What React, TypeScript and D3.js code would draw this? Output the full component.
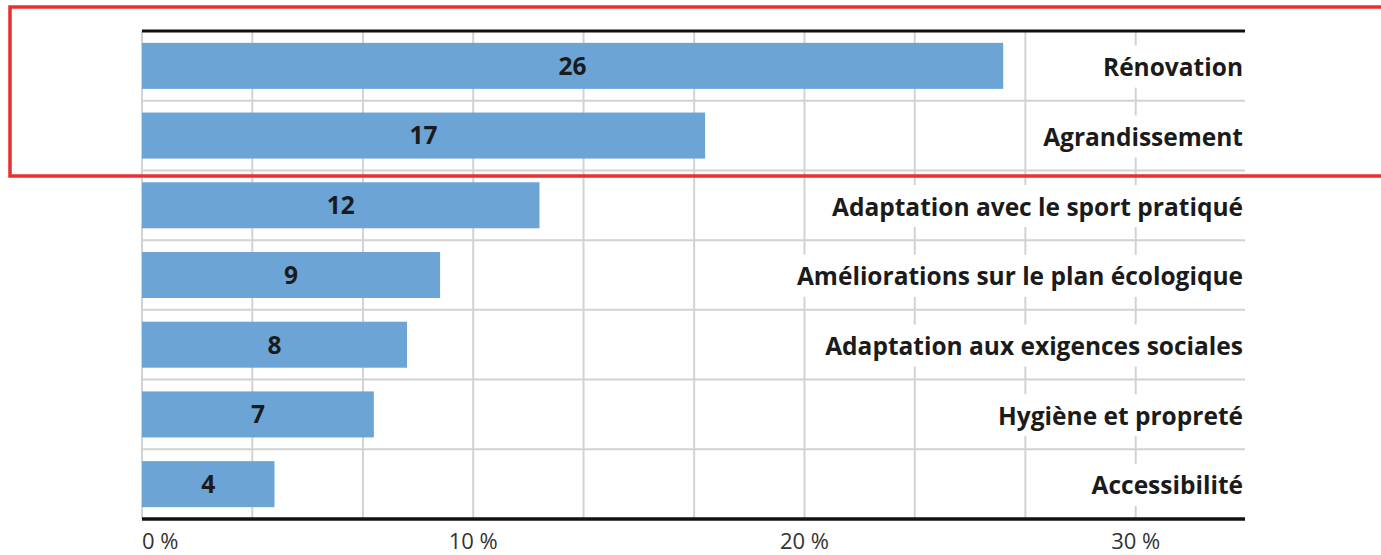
import { useRef, useEffect } from "react";
import { select, scaleLinear, scaleBand } from "d3";

// categories, top to bottom
const categories = [
  "Rénovation",
  "Agrandissement",
  "Adaptation avec le sport pratiqué",
  "Améliorations sur le plan écologique",
  "Adaptation aux exigences sociales",
  "Hygiène et propreté",
  "Accessibilité",
];
const values = [26, 17, 12, 9, 8, 7, 4];
const gridTicks = [0, 3.33, 6.67, 10, 13.33, 16.67, 20, 23.33, 26.67, 30];
const labelTicks = [0, 10, 20, 30];

const W = 1381;
const H = 555;
const left = 142;
const right = 1245;
const top = 31;
const bottom = 519;
const xMax = 33.3;

const font = "'Open Sans', sans-serif";

const App = () => {
  const svgRef = useRef<SVGSVGElement>(null);

  useEffect(() => {
    const svg = select(svgRef.current);
    svg.selectAll("*").remove();

    const xScale = scaleLinear().domain([0, xMax]).range([left, right]);
    const yScale = scaleBand<string>()
      .domain(categories)
      .range([top, bottom])
      .paddingInner(0.34)
      .paddingOuter(0.17);
    const step = yScale.step();

    // grid
    const grid = svg.append("g");
    grid
      .selectAll("line.v")
      .data(gridTicks)
      .join("line")
      .attr("x1", (d) => xScale(d))
      .attr("x2", (d) => xScale(d))
      .attr("y1", top)
      .attr("y2", bottom)
      .attr("stroke", "#d2d2d2")
      .attr("stroke-width", 2);
    grid
      .selectAll("line.h")
      .data(categories.slice(1))
      .join("line")
      .attr("x1", left)
      .attr("x2", right)
      .attr("y1", (d) => (yScale(d) as number) - (step - yScale.bandwidth()) / 2)
      .attr("y2", (d) => (yScale(d) as number) - (step - yScale.bandwidth()) / 2)
      .attr("stroke", "#d2d2d2")
      .attr("stroke-width", 2);

    // bars
    svg
      .append("g")
      .selectAll("rect")
      .data(values)
      .join("rect")
      .attr("x", xScale(0))
      .attr("y", (d, i) => yScale(categories[i]) as number)
      .attr("width", (d) => xScale(d) - xScale(0))
      .attr("height", yScale.bandwidth())
      .attr("fill", "#6ca4d6");

    // value labels
    svg
      .append("g")
      .selectAll("text")
      .data(values)
      .join("text")
      .attr("x", (d) => (xScale(0) + xScale(d)) / 2)
      .attr("y", (d, i) => (yScale(categories[i]) as number) + yScale.bandwidth() / 2)
      .attr("dy", "0.36em")
      .attr("text-anchor", "middle")
      .attr("font-family", font)
      .attr("font-weight", 700)
      .attr("font-size", 24.5)
      .attr("fill", "#1b1b1b")
      .text((d) => d);

    // category labels with white backing
    const cat = svg.append("g");
    const catText = cat
      .selectAll("text")
      .data(categories)
      .join("text")
      .attr("x", right - 2)
      .attr("y", (d) => (yScale(d) as number) + yScale.bandwidth() / 2)
      .attr("dy", "0.42em")
      .attr("text-anchor", "end")
      .attr("font-family", font)
      .attr("font-weight", 700)
      .attr("font-size", 24.5)
      .attr("fill", "#1b1b1b")
      .text((d) => d);
    catText.each(function () {
      const b = (this as SVGTextElement).getBBox();
      cat
        .insert("rect", "text")
        .attr("x", b.x - 3)
        .attr("y", b.y + b.height / 2 - 21)
        .attr("width", b.width + 5)
        .attr("height", 42)
        .attr("fill", "#fff");
    });

    // top and bottom rules
    svg
      .append("line")
      .attr("x1", left)
      .attr("x2", right)
      .attr("y1", top)
      .attr("y2", top)
      .attr("stroke", "#111")
      .attr("stroke-width", 3);
    svg
      .append("line")
      .attr("x1", left)
      .attr("x2", right)
      .attr("y1", bottom)
      .attr("y2", bottom)
      .attr("stroke", "#111")
      .attr("stroke-width", 3.5);

    // x tick labels
    svg
      .append("g")
      .selectAll("text")
      .data(labelTicks)
      .join("text")
      .attr("x", (d) => xScale(d))
      .attr("y", 549)
      .attr("text-anchor", (d) => (d === 0 ? "start" : "middle"))
      .attr("font-family", font)
      .attr("font-size", 22)
      .attr("fill", "#333")
      .text((d) => d + " %");

    // red highlight box
    svg
      .append("rect")
      .attr("x", 10)
      .attr("y", 7)
      .attr("width", 1380)
      .attr("height", 169)
      .attr("fill", "none")
      .attr("stroke", "#e8302f")
      .attr("stroke-width", 3.5);
  }, []);

  return (
    <svg
      ref={svgRef}
      width={W}
      height={H}
      style={{ position: "absolute", left: 0, top: 0, background: "#fff" }}
    ></svg>
  );
};

export default App;
